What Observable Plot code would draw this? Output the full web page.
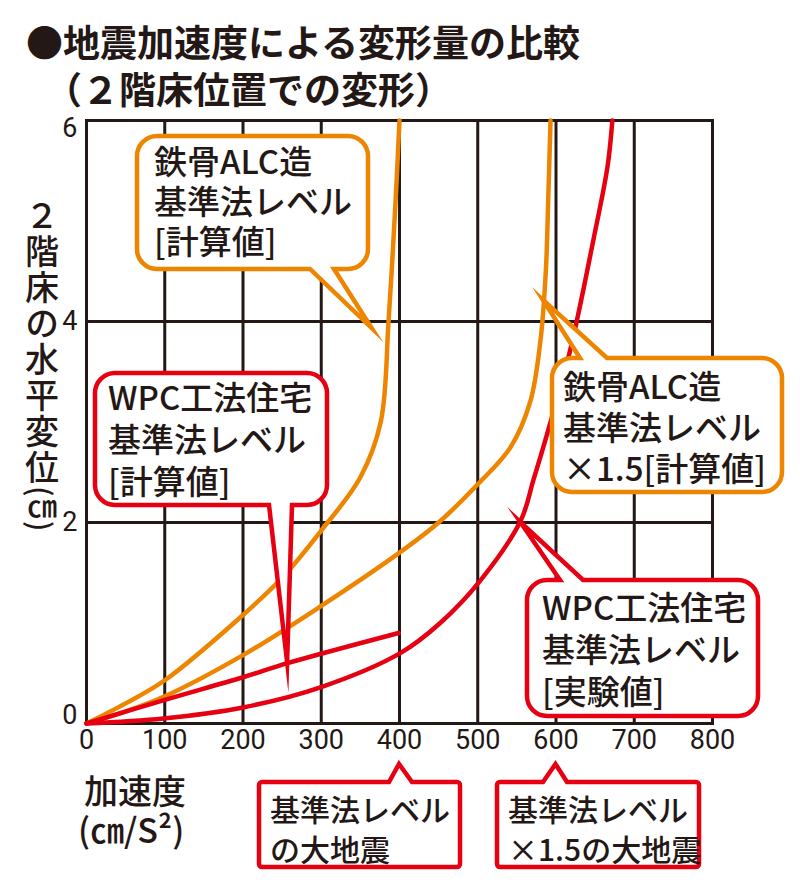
<!DOCTYPE html>
<html><head><meta charset="utf-8">
<script src="https://cdn.jsdelivr.net/npm/d3@7"></script>
<script src="https://cdn.jsdelivr.net/npm/@observablehq/plot@0.6"></script>
<style>
body{margin:0;background:#fff;}
#chart{position:relative;width:800px;height:885px;}
</style></head><body><div id="chart"></div>
<script>
// ---- data ----
const titleLines = ["●地震加速度による変形量の比較", "（２階床位置での変形）"];
const yLabelMain = "２階床の水平変位";
const yLabelUnit = "(㎝)";
const xLabelLines = ["加速度", "(㎝/S²)"];
const xTicks = [0, 100, 200, 300, 400, 500, 600, 700, 800];
const yTicks = [0, 2, 4, 6];

// 鉄骨ALC造 基準法レベル [計算値]
const alcAccel = [0, 50, 100, 200, 250, 300, 350, 376, 386, 395, 400];
const alcDisp  = [0, 0.2, 0.43, 1.08, 1.45, 1.92, 2.45, 3.0, 4.0, 5.2, 6.0];
// 鉄骨ALC造 基準法レベル ×1.5 [計算値]
const alc15Accel = [0, 50, 100, 200, 300, 400, 450, 500, 542, 567, 580, 587, 590, 593];
const alc15Disp  = [0, 0.12, 0.27, 0.68, 1.17, 1.70, 2.0, 2.38, 2.75, 3.2, 3.8, 4.5, 5.2, 6.0];
// WPC工法住宅 基準法レベル [計算値]
const wpcCalcAccel = [0, 98, 200, 257, 399];
const wpcCalcDisp  = [0, 0.23, 0.46, 0.60, 0.90];
// WPC工法住宅 基準法レベル [実験値]
const wpcExpAccel = [0, 98, 200, 299, 401, 452, 503, 555, 571, 589, 618, 648, 666, 672];
const wpcExpDisp  = [0, 0.05, 0.16, 0.36, 0.70, 1.0, 1.42, 2.02, 2.42, 2.89, 3.71, 4.82, 5.55, 6.0];

const quakeLevels = [400, 600];
const quakeLabels = [["基準法レベル", "の大地震"], ["基準法レベル", "×1.5の大地震"]];
const calloutLabels = [
  ["鉄骨ALC造", "基準法レベル", "[計算値]"],
  ["鉄骨ALC造", "基準法レベル", "×1.5[計算値]"],
  ["WPC工法住宅", "基準法レベル", "[計算値]"],
  ["WPC工法住宅", "基準法レベル", "[実験値]"]
];
// points on the curves that the callouts point to (accel, disp)
const calloutTargets = [[365, 3.93], [584, 4.21], [257, 0.607], [555, 2.0]];

// ---- styles / layout ----
const ink = "#231815", orange = "#EE8500", red = "#E60012";
const jp = "'Noto Sans CJK JP', 'Noto Sans', sans-serif";
const numFont = "Roboto, 'Liberation Sans', sans-serif";

const zip = (xs, ys) => xs.map((x, i) => ({a: x, d: ys[i]}));
const series = [
  {rows: zip(alcAccel, alcDisp), color: orange},
  {rows: zip(alc15Accel, alc15Disp), color: orange},
  {rows: zip(wpcCalcAccel, wpcCalcDisp), color: red},
  {rows: zip(wpcExpAccel, wpcExpDisp), color: red}
];

const tickStyle = {fontSize: 27, fontFamily: numFont, fill: ink};
const plot = Plot.plot({
  width: 800, height: 885,
  marginLeft: 86, marginRight: 88, marginTop: 120, marginBottom: 162,
  x: {domain: [0, 800], axis: null},
  y: {domain: [0, 6], axis: null},
  style: {fontFamily: jp, background: "#fff", color: ink},
  marks: [
    Plot.ruleX(xTicks.slice(1, -1), {stroke: ink, strokeWidth: 3}),
    Plot.ruleY(yTicks.slice(1, -1), {stroke: ink, strokeWidth: 3}),
    Plot.frame({stroke: ink, strokeWidth: 3}),
    Plot.text(xTicks, {x: d => d, frameAnchor: "bottom", dy: 25, ...tickStyle}),
    Plot.text(yTicks.slice(1, -1), {y: d => d, frameAnchor: "left", dx: -9, textAnchor: "end", ...tickStyle}),
    Plot.text(yTicks.slice(-1), {y: d => d, frameAnchor: "left", dx: -9, dy: 8, textAnchor: "end", ...tickStyle}),
    Plot.text(yTicks.slice(0, 1), {y: d => d, frameAnchor: "left", dx: -9, dy: -8, textAnchor: "end", ...tickStyle}),
    ...series.map(s => Plot.line(s.rows, {x: "a", y: "d", stroke: s.color, strokeWidth: 4.5, curve: "catmull-rom"}))
  ]
});
document.getElementById("chart").appendChild(plot);

const svg = d3.select(plot);
const sx = plot.scale("x"), sy = plot.scale("y");

// title
const tg = svg.append("g").attr("fill", ink).attr("font-family", jp).attr("text-anchor", "start");
tg.append("text").attr("x", 26).attr("y", 41).attr("dominant-baseline", "central")
  .attr("font-size", 37).attr("font-weight", "bold").text(titleLines[0]);
tg.append("text").attr("x", 45).attr("y", 88).attr("dominant-baseline", "central")
  .attr("font-size", 37).attr("font-weight", "bold").text(titleLines[1]);

// y label (vertical)
const yl = tg.append("text").attr("x", 42).attr("y", 198)
  .style("writing-mode", "vertical-rl").attr("font-size", 34).attr("font-weight", 500)
  .attr("letter-spacing", 2);
yl.append("tspan").text(yLabelMain);
yl.append("tspan").attr("font-size", 30).attr("letter-spacing", -3).text(yLabelUnit);

// x label
tg.append("text").attr("x", 84).attr("y", 789).attr("dominant-baseline", "central")
  .attr("font-size", 34).attr("font-weight", 500).text(xLabelLines[0]);
tg.append("text").attr("x", 78).attr("y", 828).attr("dominant-baseline", "central")
  .attr("font-size", 34).attr("font-weight", 500).text(xLabelLines[1]);

// callouts
function calloutPath(b, t) {
  const {x0, y0, x1, y1, r} = b;
  let p = `M${x0 + r},${y0}`;
  if (t.side === "top") p += `H${t.b0}L${t.ax},${t.ay}L${t.b1},${y0}`;
  p += `H${x1 - r}A${r},${r} 0 0 1 ${x1},${y0 + r}V${y1 - r}A${r},${r} 0 0 1 ${x1 - r},${y1}`;
  if (t.side === "bottom") p += `H${t.b1}L${t.ax},${t.ay}L${t.b0},${y1}`;
  p += `H${x0 + r}A${r},${r} 0 0 1 ${x0},${y1 - r}V${y0 + r}A${r},${r} 0 0 1 ${x0 + r},${y0}Z`;
  return p;
}
const calloutLayout = [
  {color: orange, box: {x0: 137, y0: 136, x1: 368, y1: 269, r: 20}, side: "bottom", b0: 310, b1: 334, tx: 154, ty: [160, 200, 240], fs: 33},
  {color: orange, box: {x0: 552, y0: 358, x1: 782, y1: 492, r: 20}, side: "top", b0: 580, b1: 607, tx: 563, ty: [385, 426, 467], fs: 33},
  {color: red, box: {x0: 95, y0: 373, x1: 327, y1: 505, r: 20}, side: "bottom", b0: 269, b1: 292, tx: 108, ty: [396, 438, 480], fs: 33},
  {color: red, box: {x0: 527, y0: 580, x1: 758, y1: 716, r: 20}, side: "top", b0: 560, b1: 583, tx: 542, ty: [606, 648, 690], fs: 33}
];
const cg = svg.append("g").attr("font-family", jp).attr("text-anchor", "start");
function drawCallout(L, ax, ay, lines) {
  cg.append("path").attr("d", calloutPath(L.box, {side: L.side, b0: L.b0, b1: L.b1, ax, ay}))
    .attr("fill", "#fff").attr("stroke", L.color).attr("stroke-width", 4.5)
    .attr("stroke-linejoin", "miter").attr("stroke-miterlimit", 20);
  lines.forEach((s, i) => cg.append("text").attr("x", L.tx).attr("y", L.ty[i])
    .attr("dominant-baseline", "central").attr("font-size", L.fs).attr("font-weight", 500)
    .attr("fill", ink).text(s));
}
calloutLayout.forEach((L, i) => {
  const [a, d] = calloutTargets[i];
  drawCallout(L, sx.apply(a), sy.apply(d), calloutLabels[i]);
});
const quakeLayout = [
  {color: red, box: {x0: 259, y0: 782, x1: 460, y1: 867, r: 3}, side: "top", b0: 389, b1: 412, tx: 270, ty: [808, 848], fs: 30},
  {color: red, box: {x0: 497, y0: 782, x1: 699, y1: 867, r: 3}, side: "top", b0: 543, b1: 567, tx: 508, ty: [808, 848], fs: 30}
];
quakeLevels.forEach((q, i) => {
  drawCallout(quakeLayout[i], sx.apply(q), 764, quakeLabels[i]);
});
</script></body></html>
